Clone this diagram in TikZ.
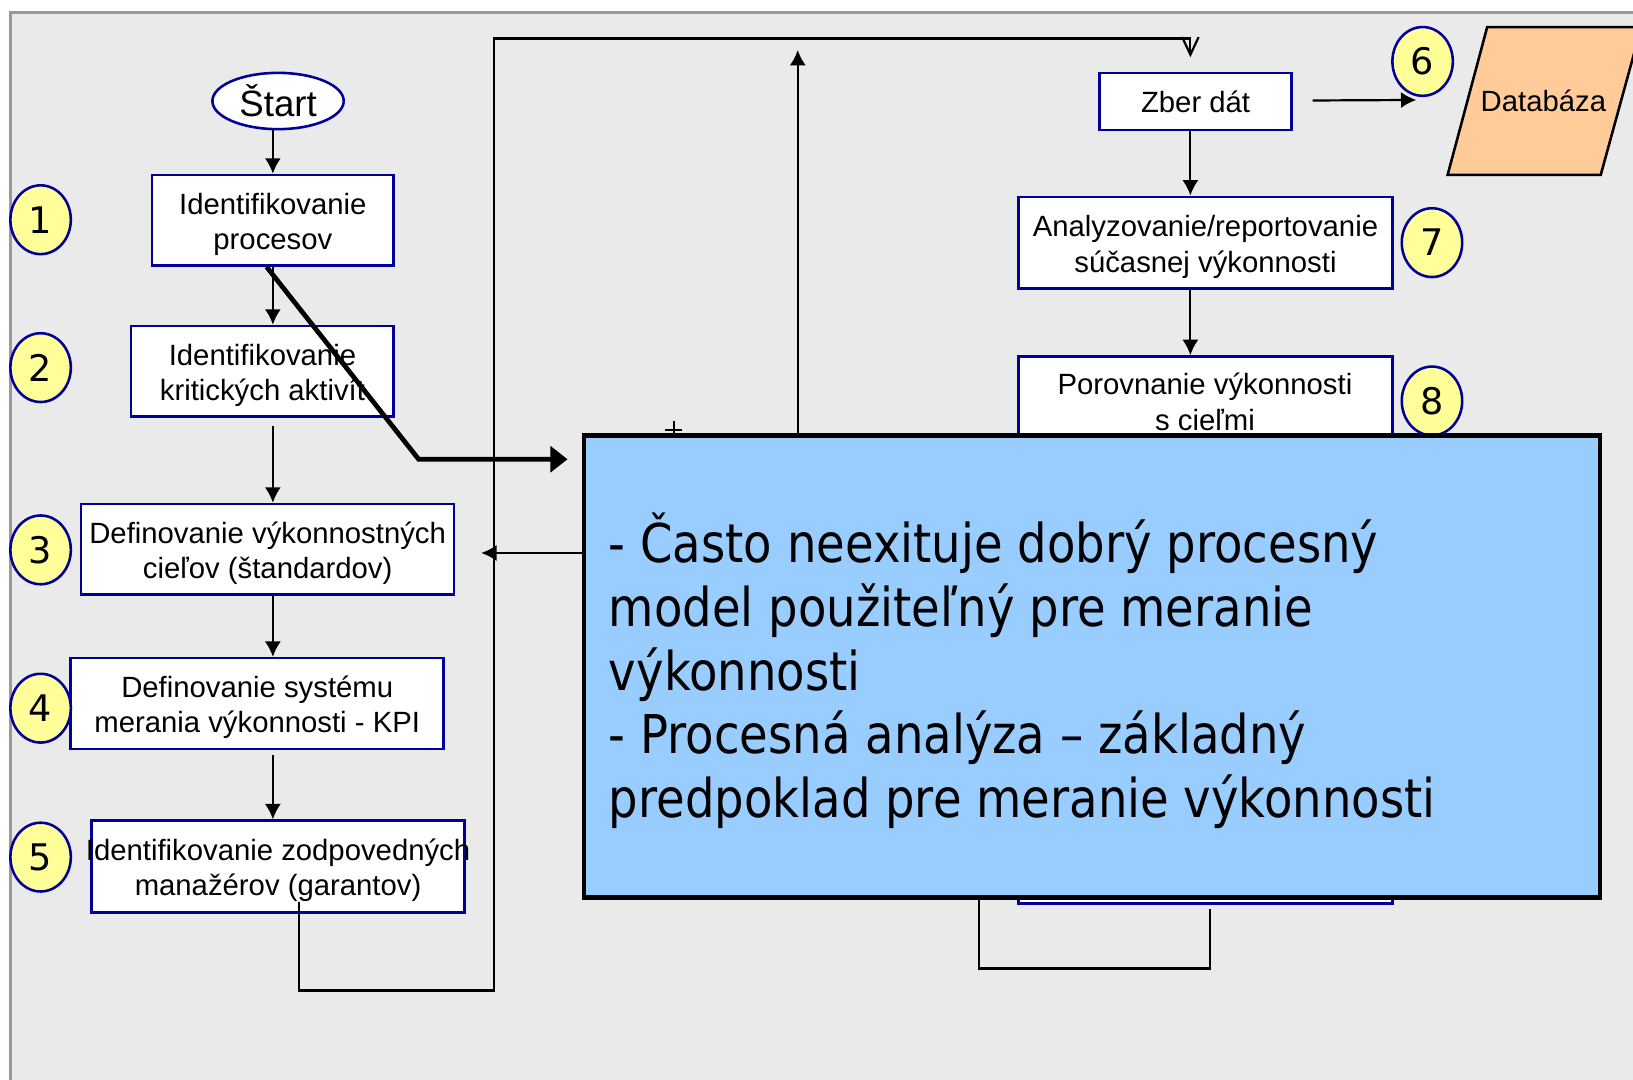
\documentclass[tikz,border=0pt]{standalone}
\usepackage{fontspec}
\setmainfont{Liberation Sans}
\newfontfamily\numfont{DejaVu Sans}
\newfontfamily\notefont[FakeStretch=0.87]{DejaVu Sans}
\usetikzlibrary{arrows.meta,shapes.geometric,calc}

\definecolor{bgpanel}{HTML}{EAEAEA}
\definecolor{frameline}{HTML}{9A9A9A}
\definecolor{boxline}{HTML}{000099}
\definecolor{numfill}{HTML}{FFFF99}
\definecolor{notefill}{HTML}{99CCFF}
\definecolor{dbfill}{HTML}{FFCC99}

% pushes two-line box texts a little down
\newcommand{\lift}{\rule{0pt}{8.1pt}}

\tikzset{
  procbox/.style={draw=boxline, line width=0.7pt, fill=white, inner sep=0pt,
    align=center, font=\fontsize{8pt}{9.6pt}\selectfont},
  boxtext/.style={inner sep=0pt, align=center, font=\fontsize{8pt}{9.6pt}\selectfont},
  startoval/.style={ellipse, draw=boxline, line width=0.7pt, fill=white, inner sep=0pt,
    minimum width=1.26cm, minimum height=0.54cm, font=\fontsize{10pt}{12pt}\selectfont},
  numball/.style={ellipse, draw=boxline, line width=0.7pt, fill=numfill, inner sep=0pt,
    minimum width=0.58cm, minimum height=0.66cm, font=\numfont\fontsize{10pt}{12pt}\selectfont},
  flow/.style={line width=0.6pt, -{Latex[length=4.2pt,width=4.4pt]}},
  wire/.style={line width=0.6pt},
  bigflow/.style={line width=1.3pt, -{Triangle[length=4.7pt,width=7pt]}},
  notebox/.style={draw=black, line width=1.3pt, fill=notefill, inner sep=0pt},
  notetext/.style={inner sep=0pt, align=left, font=\notefont\fontsize{14.6pt}{17.4pt}\selectfont}
}

\begin{document}
\begin{tikzpicture}[x=0.01cm,y=-0.01cm]
  \useasboundingbox (0,0) rectangle (1568,1037);
  \clip (0,0) rectangle (1568,1037);
  % panel
  \fill[white] (0,0) rectangle (1568,1037);
  \fill[bgpanel] (10,12) rectangle (1568,1037);
  \draw[frameline, line width=0.6pt] (10,1037) -- (10,12) -- (1568,12);

  % left column
  \node[startoval] (start) at (267,97) {Štart};
  \node[procbox, minimum width=2.32cm, minimum height=0.87cm] (box1) at (262,211.5) {\lift Identifikovanie\\procesov};
  \node[procbox, minimum width=2.52cm, minimum height=0.87cm] (box2) at (252,356.5) {\lift Identifikovanie\\kritických aktivít};
  \node[procbox, minimum width=3.58cm, minimum height=0.87cm] (box3) at (257,527.5) {\lift Definovanie výkonnostných\\cieľov (štandardov)};
  \node[procbox, minimum width=3.58cm, minimum height=0.87cm] (box4) at (247,675.5) {\lift Definovanie systému\\merania výkonnosti - KPI};
  \node[procbox, minimum width=3.58cm, minimum height=0.88cm] (box5) at (267,832) {\lift\makebox[3.5cm][c]{Identifikovanie zodpovedných}\\manažérov (garantov)};

  \node[numball] (n1) at (39,211) {1};
  \node[numball] (n2) at (39,353) {2};
  \node[numball] (n3) at (39,528) {3};
  \node[numball] (n4) at (39,680) {4};
  \node[numball] (n5) at (39,823) {5};

  \coordinate (colx) at (262,0);
  \draw[flow] (start.south -| colx) -- (box1.north);
  \draw[flow] (box1.south) -- (box2.north -| colx);
  \draw[flow] ($(box2.south -| colx)+(0,8)$) -- (box3.north -| colx);
  \draw[flow] (box3.south -| colx) -- (box4.north -| colx);
  \draw[flow] ($(box4.south -| colx)+(0,5)$) -- (box5.north -| colx);

  % right column
  \node[procbox, minimum width=1.84cm, minimum height=0.55cm] (zber) at (1148,97.5) {Zber dát};
  \node[procbox, minimum width=3.59cm, minimum height=0.88cm] (box7) at (1157.5,233) {\lift Analyzovanie/reportovanie\\súčasnej výkonnosti};
  \node[procbox, minimum width=3.59cm, minimum height=5.25cm, anchor=north] (box8) at (1157.5,341) {};
  \node[boxtext] (box8txt) at (1157,382) {\lift Porovnanie výkonnosti\\s cieľmi};

  \draw[line width=0.7pt, fill=dbfill] (1428,26) -- (1576,26) -- (1537,168) -- (1390,168) -- cycle;
  \node[boxtext] (db) at (1482,97) {Databáza};

  \node[numball] (n6) at (1366,59) {6};
  \node[numball] (n7) at (1375,233) {7};
  \node[numball] (n8) at (1375,385) {8};

  \coordinate (colr) at (1143,0);
  \coordinate (dbin) at (1360,96);
  \draw[flow] ($(zber.east)+(19,-1)$) -- (dbin);
  \draw[flow] (zber.south -| colr) -- (box7.north -| colr);
  \draw[flow] (box7.south -| colr) -- (box8.north -| colr);

  % feedback loops
  \coordinate (loopstart) at (287,866);
  \coordinate (zbin) at (1143,55);
  \draw[wire, -{Straight Barb[length=4.8pt,width=4.5pt]}] (loopstart) |- (474,951) |- (1143,37) -- (zbin);
  \coordinate (uptip) at (766,48);
  \coordinate (backtip) at (462,531);
  \draw[flow] (766,418) -- (uptip);
  \draw[flow] (561,531) -- (backtip);
  \draw[wire] (647,404) -- (647,418) (639,413) -- (655,413);
  \draw[wire] (940,862) |- (1162,930) -- (1162,873);
  \draw[bigflow] (box1.south -| 256,0) -- (402,441) -- (545,441);

  % note
  \node[notebox, minimum width=9.75cm, minimum height=4.44cm] (note) at (1048.5,640) {};
  \node[notetext, anchor=north west] (notetxt) at (584,492) {- Často neexituje dobrý procesný\\model použiteľný pre meranie\\výkonnosti\\- Procesná analýza – základný\\predpoklad pre meranie výkonnosti};
\end{tikzpicture}
\end{document}
